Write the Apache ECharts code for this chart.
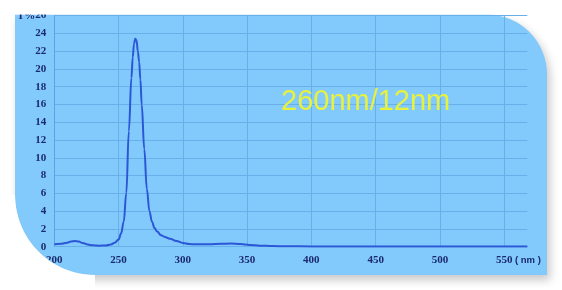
<!DOCTYPE html>
<html>
<head>
<meta charset="utf-8">
<script src="https://cdn.jsdelivr.net/npm/echarts@6/dist/echarts.min.js"></script>
<style>html,body{margin:0;padding:0;background:#fff;}#c{width:562px;height:290px;}</style>
</head>
<body>
<div id="c"></div>
<script>
// Wavelength (nm) and transmittance values
var wavelengths = [200,205,210,213,216,219,222,226,230,235,240,244,247,250,252,254,256,258,260,261,262,263,264,265,266,267,268,270,272,274,276,278,280,283,286,290,295,300,305,310,320,330,337,345,352,360,370,380,400,450,500,550,568];
var values      = [0.28,0.32,0.45,0.58,0.64,0.58,0.42,0.25,0.15,0.12,0.14,0.25,0.45,0.8,1.5,2.8,6.0,13.0,19.0,21.3,22.8,23.4,23.2,22.0,20.8,18.8,16.0,11.0,6.5,4.0,2.8,2.1,1.7,1.3,1.1,0.9,0.65,0.42,0.3,0.27,0.28,0.33,0.35,0.3,0.2,0.12,0.07,0.05,0.03,0.02,0.02,0.02,0.02];
var xTicks = {min: 200, max: 568, step: 50};
var yTicks = {min: 0, max: 26, step: 2};
var yName = 'T%';
var xUnit = '( nm )';
var annotation = '260nm/12nm';

var chart = echarts.init(document.getElementById('c'), null, {renderer: 'canvas'});
var labelColor = '#1b2a6b';
var gridColor = '#68b0ea';

// white mask outside the rounded bottom-left corner (clips the "200" label like the reference)
var maskPts = [[0, 195], [15, 195]];
for (var k = 0; k <= 24; k++) {
  var a = Math.PI - (Math.PI / 2) * (k / 24);
  maskPts.push([95 + 80 * Math.cos(a), 195 + 80 * Math.sin(a)]);
}
maskPts.push([95, 290], [0, 290]);

chart.setOption({
  animation: false,
  backgroundColor: '#ffffff',
  grid: {left: 54.3, right: 34.7, top: 15.6, bottom: 43.3, containLabel: false},
  xAxis: {
    type: 'value', min: xTicks.min, max: xTicks.max, interval: xTicks.step,
    axisLine: {show: true, lineStyle: {color: gridColor, width: 1}},
    axisTick: {show: false},
    axisLabel: {color: labelColor, fontFamily: 'Liberation Serif', fontWeight: 'bold', fontSize: 11, margin: 8, showMaxLabel: false},
    splitLine: {show: true, showMinLine: false, showMaxLine: false, lineStyle: {color: gridColor, width: 1}}
  },
  yAxis: {
    type: 'value', min: yTicks.min, max: yTicks.max, interval: yTicks.step,
    axisLine: {show: true, lineStyle: {color: '#5aa3e2', width: 1}},
    axisTick: {show: false},
    axisLabel: {color: labelColor, fontFamily: 'Liberation Serif', fontWeight: 'bold', fontSize: 11, margin: 8},
    splitLine: {show: true, lineStyle: {color: gridColor, width: 1}}
  },
  graphic: [
    {type: 'rect', z: -10, silent: true,
     shape: {x: 15, y: 14.5, width: 532, height: 260.5, r: [0, 60, 0, 80]},
     style: {fill: '#82c9fc', shadowBlur: 10, shadowOffsetX: 3, shadowOffsetY: 5, shadowColor: 'rgba(0,0,0,0.22)'}},
    {type: 'text', z: 50, x: 17, y: 10.5,
     style: {text: yName, fill: labelColor, font: 'bold 11px "Liberation Serif"'}},
    {type: 'text', z: 50, x: 515, y: 255.5,
     style: {text: xUnit, fill: labelColor, font: 'bold 9.5px "Liberation Sans"'}},
    {type: 'text', z: 50, x: 281, y: 87,
     style: {text: annotation, fill: '#e8f23c', font: '29px "Liberation Sans"'}},
    {type: 'rect', z: 100, silent: true, shape: {x: 0, y: 0, width: 562, height: 14.5}, style: {fill: '#ffffff'}},
    {type: 'polygon', z: 100, silent: true, shape: {points: maskPts}, style: {fill: '#ffffff'}}
  ],
  series: [{
    type: 'line',
    data: wavelengths.map(function (w, i) { return [w, values[i]]; }),
    smooth: 0.4,
    smoothMonotone: 'x',
    showSymbol: false,
    symbol: 'none',
    lineStyle: {color: '#2b57d6', width: 2},
    z: 5
  }]
});
</script>
</body>
</html>
